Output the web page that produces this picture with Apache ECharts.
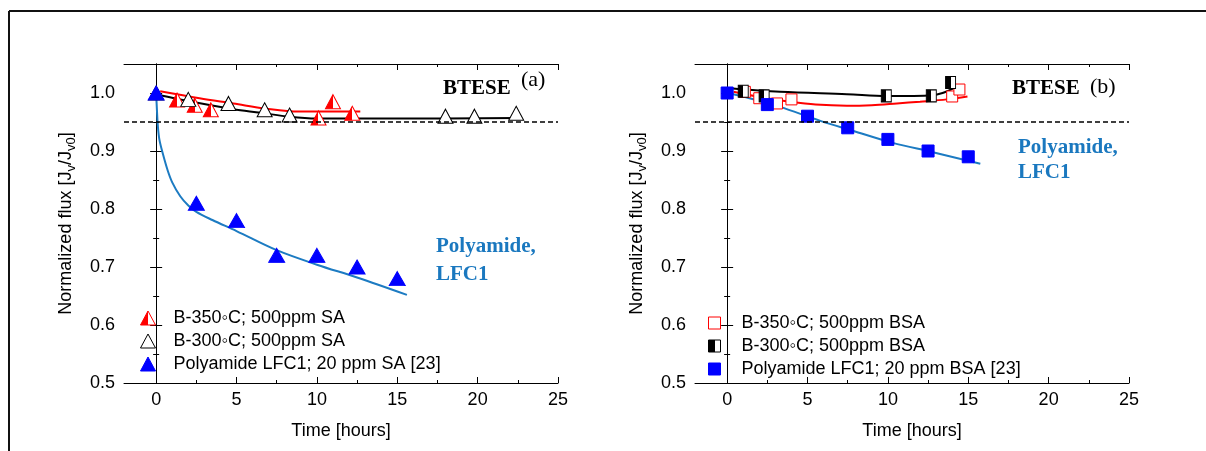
<!DOCTYPE html>
<html>
<head>
<meta charset="utf-8">
<script src="https://cdn.jsdelivr.net/npm/echarts@6/dist/echarts.min.js"></script>
<style>
  html, body { margin: 0; padding: 0; background: #fff; }
  #chart { width: 1206px; height: 451px; }
</style>
</head>
<body>
<div id="chart"></div>
<script>
// ---- Axis ticks ----
const xMajorTicks = [0, 5, 10, 15, 20, 25];
const xMinorTicks = [2.5, 7.5, 12.5, 17.5, 22.5];
const yMajorTicks = [0.5, 0.6, 0.7, 0.8, 0.9, 1.0];
const yMinorTicks = [0.55, 0.65, 0.75, 0.85, 0.95, 1.05];
const fluxLimit = 0.95;

// ---- Panel (a): sodium alginate (SA) fouling, [time h, J/J0] ----
const b350SA = [[1.3, 0.988], [2.4, 0.979], [3.4, 0.971], [10.1, 0.957], [11.0, 0.985], [12.2, 0.965]];
const b300SA = [[0, 1.0], [2.0, 0.989], [4.5, 0.982], [6.75, 0.971], [8.3, 0.962], [18.0, 0.960], [19.8, 0.960], [22.4, 0.965]];
const paSA = [[0, 1.0], [2.5, 0.81], [5, 0.78], [7.5, 0.72], [10, 0.72], [12.5, 0.70], [15, 0.68]];
const b350SAFit = [[0.25, 1.003], [2.7, 0.991], [4.8, 0.982], [6.85, 0.973], [8.9, 0.968], [12.7, 0.968]];
const b300SAFit = [[0.25, 0.996], [2.0, 0.986], [4.8, 0.972], [6.5, 0.966], [8.3, 0.959], [10, 0.956], [15, 0.956], [22.5, 0.957]];
const paSAFit = [[0, 1.0], [0.05, 0.97], [0.1, 0.945], [0.2, 0.92], [0.4, 0.897], [0.7, 0.868], [1.0, 0.846], [1.5, 0.822], [2.0, 0.806], [2.5, 0.795], [3.5, 0.781], [5, 0.762], [7.5, 0.729], [10, 0.704], [12.5, 0.682], [15.6, 0.652]];

// ---- Panel (b): bovine serum albumin (BSA) fouling ----
const b350BSA = [[1.1, 1.002], [2.0, 0.991], [3.1, 0.982], [4.0, 0.989], [14.0, 0.994], [14.45, 1.006]];
const b300BSA = [[1.0, 1.003], [2.3, 0.995], [9.9, 0.995], [12.7, 0.995], [13.9, 1.018]];
const paBSA = [[0, 1.0], [2.5, 0.98], [5, 0.96], [7.5, 0.94], [10, 0.92], [12.5, 0.90], [15, 0.89]];
const b350BSAFit = [[0.4, 1.002], [2.0, 0.993], [3.9, 0.985], [5.5, 0.980], [7.45, 0.978], [9.0, 0.979], [10.56, 0.982], [12.0, 0.985], [13.67, 0.989], [14.95, 0.994]];
const b300BSAFit = [[0.2, 1.008], [3.3, 1.002], [7.45, 0.998], [9.94, 0.995], [11.6, 0.995], [12.74, 0.996], [13.4, 1.0], [14.08, 1.008]];
const paBSAFit = [[0, 1.0], [1.0, 0.994], [2.5, 0.982], [3.3, 0.976], [5.8, 0.952], [7.8, 0.935], [10.3, 0.914], [12.8, 0.898], [15.75, 0.878]];

// ---- Legend names ----
const namesA = ['B-350\u25E6C; 500ppm SA', 'B-300\u25E6C; 500ppm SA', 'Polyamide LFC1; 20 ppm SA [23]'];
const namesB = ['B-350\u25E6C; 500ppm BSA', 'B-300\u25E6C; 500ppm BSA', 'Polyamide LFC1; 20 ppm BSA [23]'];

const RED = '#ff0000', BLUE = '#0000ff', FIT_BLUE = '#1c7bc2', TEXT_BLUE = '#1a78bf';
const SANS = '"Liberation Sans", Arial, sans-serif';
const SERIF = '"Liberation Serif", "Times New Roman", serif';

function halfFill(c) {
  return { type: 'linear', x: 0, y: 0, x2: 1, y2: 0,
    colorStops: [{ offset: 0, color: c }, { offset: 0.5, color: c }, { offset: 0.5, color: '#fff' }, { offset: 1, color: '#fff' }] };
}

const grids = [
  { left: 124, top: 64, width: 434, height: 319 },
  { left: 695, top: 64, width: 434, height: 319 }
];

const xAxes = [], yAxes = [];
grids.forEach((g, gi) => {
  const base = { type: 'value', gridIndex: gi, min: -2, max: 25, splitLine: { show: false } };
  const line = { show: true, lineStyle: { color: '#000', width: 1 } };
  // bottom: labels + major ticks
  xAxes.push(Object.assign({}, base, {
    position: 'bottom', axisLine: line,
    axisTick: { show: true, inside: true, length: 6, customValues: xMajorTicks, lineStyle: { color: '#000' } },
    axisLabel: { show: true, customValues: xMajorTicks, margin: 8, color: '#000', fontSize: 18, fontFamily: SANS },
    name: 'Time [hours]', nameLocation: 'middle', nameGap: 39,
    nameTextStyle: { color: '#000', fontSize: 18, fontFamily: SANS }
  }));
  xAxes.push(Object.assign({}, base, {
    position: 'bottom', axisLine: { show: false }, axisLabel: { show: false },
    axisTick: { show: true, inside: true, length: 3, customValues: xMinorTicks, lineStyle: { color: '#000' } }
  }));
  xAxes.push(Object.assign({}, base, {
    position: 'top', axisLine: line, axisLabel: { show: false },
    axisTick: { show: true, inside: true, length: 6, customValues: xMajorTicks, lineStyle: { color: '#000' } }
  }));
  xAxes.push(Object.assign({}, base, {
    position: 'top', axisLine: { show: false }, axisLabel: { show: false },
    axisTick: { show: true, inside: true, length: 3, customValues: xMinorTicks, lineStyle: { color: '#000' } }
  }));

  const ybase = { type: 'value', gridIndex: gi, min: 0.5, max: 1.05, splitLine: { show: false } };
  yAxes.push(Object.assign({}, ybase, {
    position: 'left', axisLine: line,
    axisTick: { show: true, inside: true, length: 6, customValues: yMajorTicks, lineStyle: { color: '#000' } },
    axisLabel: { show: true, customValues: yMajorTicks, margin: 9, color: '#000', fontSize: 18, fontFamily: SANS,
      formatter: v => v.toFixed(1) },
    name: '{n|Normalized flux [J}{s|v}{n|/J}{s|v0}{n|]}', nameLocation: 'middle', nameRotate: 90, nameGap: 46,
    nameTextStyle: { rich: {
      n: { fontSize: 18, fontFamily: SANS, color: '#000', lineHeight: 24, verticalAlign: 'middle' },
      s: { fontSize: 13, fontFamily: SANS, color: '#000', lineHeight: 13, verticalAlign: 'bottom' }
    } }
  }));
  yAxes.push(Object.assign({}, ybase, {
    position: 'left', axisLine: { show: false }, axisLabel: { show: false },
    axisTick: { show: true, inside: true, length: 3, customValues: yMinorTicks, lineStyle: { color: '#000' } }
  }));
  yAxes.push(Object.assign({}, ybase, {
    position: 'right', axisLine: line, axisLabel: { show: false },
    axisTick: { show: true, inside: true, length: 6, customValues: yMajorTicks, lineStyle: { color: '#000' } }
  }));
  yAxes.push(Object.assign({}, ybase, {
    position: 'right', axisLine: { show: false }, axisLabel: { show: false },
    axisTick: { show: true, inside: true, length: 3, customValues: yMinorTicks, lineStyle: { color: '#000' } }
  }));
});

function fitLine(id, data, color, panel, withLimit) {
  const s = {
    id: id, type: 'line', data: data, xAxisIndex: panel * 4, yAxisIndex: panel * 4,
    smooth: 0.35, showSymbol: false, symbol: 'none', silent: true,
    lineStyle: { color: color, width: 2 }, z: 2
  };
  if (withLimit) {
    s.markLine = { silent: true, symbol: 'none', label: { show: false },
      lineStyle: { color: '#000', type: [5, 3], width: 1.5 },
      data: [{ yAxis: fluxLimit }] };
  }
  return s;
}

function points(name, data, panel, symbol, size, fill, border) {
  return {
    name: name, type: 'scatter', data: data, xAxisIndex: panel * 4, yAxisIndex: panel * 4,
    symbol: symbol, symbolSize: size, z: 3,
    itemStyle: { color: fill, borderColor: border, borderWidth: 1, opacity: 1 }
  };
}

const series = [
  fitLine('fitA350', b350SAFit, RED, 0, false),
  fitLine('fitA300', b300SAFit, '#000', 0, true),
  fitLine('fitApa', paSAFit, FIT_BLUE, 0, false),
  points(namesA[0], b350SA, 0, 'triangle', [15, 14], halfFill(RED), RED),
  points(namesA[1], b300SA, 0, 'triangle', [15, 14], '#fff', '#000'),
  points(namesA[2], paSA, 0, 'triangle', [16, 14], BLUE, BLUE),

  fitLine('fitB350', b350BSAFit, RED, 1, false),
  fitLine('fitB300', b300BSAFit, '#000', 1, true),
  fitLine('fitBpa', paBSAFit, FIT_BLUE, 1, false),
  points(namesB[0], b350BSA, 1, 'rect', [11, 11], '#fff', RED),
  points(namesB[1], b300BSA, 1, 'rect', [10, 12], halfFill('#000'), '#000'),
  points(namesB[2], paBSA, 1, 'rect', [12, 12], BLUE, BLUE)
];

function legendText(padLeft) {
  return { color: '#000', fontSize: 18, fontFamily: SANS, lineHeight: 18, padding: [0, 0, 0, padLeft] };
}

function label(x, y, text, font, fill, align) {
  return { type: 'text', x: x, y: y, silent: true,
    style: { text: text, font: font, fill: fill, textAlign: align || 'left', textVerticalAlign: 'middle' } };
}

const option = {
  animation: false,
  backgroundColor: '#fff',
  grid: grids,
  xAxis: xAxes,
  yAxis: yAxes,
  legend: [
    { data: namesA, orient: 'vertical', left: 140, top: 309, itemWidth: 15, itemHeight: 14, itemGap: 5,
      textStyle: legendText(13), selectedMode: false, padding: 0, itemStyle: { borderWidth: 1 } },
    { data: namesB, orient: 'vertical', left: 708, top: 314, itemWidth: 12, itemHeight: 12, itemGap: 5,
      textStyle: legendText(16), selectedMode: false, padding: 0, itemStyle: { borderWidth: 1 } }
  ],
  series: series,
  graphic: [
    { type: 'line', silent: true, shape: { x1: 9, y1: 11, x2: 1206, y2: 11 }, style: { stroke: '#111', lineWidth: 2 } },
    { type: 'line', silent: true, shape: { x1: 9, y1: 11, x2: 9, y2: 451 }, style: { stroke: '#111', lineWidth: 2 } },
    label(443, 89, 'BTESE', 'bold 21px ' + SERIF, '#000'),
    label(521, 80, '(a)', '22px ' + SERIF, '#000'),
    label(436, 247, 'Polyamide,', 'bold 21px ' + SERIF, TEXT_BLUE),
    label(436, 275, 'LFC1', 'bold 21px ' + SERIF, TEXT_BLUE),
    label(1012, 89, 'BTESE', 'bold 21px ' + SERIF, '#000'),
    label(1090, 87, '(b)', '22px ' + SERIF, '#000'),
    label(1018, 148, 'Polyamide,', 'bold 21px ' + SERIF, TEXT_BLUE),
    label(1018, 173, 'LFC1', 'bold 21px ' + SERIF, TEXT_BLUE)
  ]
};

const chart = echarts.init(document.getElementById('chart'), null, { renderer: 'canvas' });
chart.setOption(option);
</script>
</body>
</html>
